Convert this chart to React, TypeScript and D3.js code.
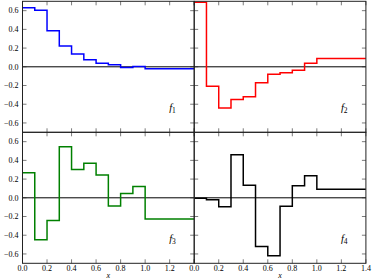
import React from "react";
import * as d3 from "d3";

const edges = [0, 0.1, 0.2, 0.3, 0.4, 0.5, 0.6, 0.7, 0.8, 0.9, 1.0, 1.4];
const f1 = [0.632, 0.604, 0.386, 0.221, 0.136, 0.075, 0.039, 0.021, -0.007, 0.004, -0.021];
const f2 = [0.689, -0.207, -0.439, -0.35, -0.321, -0.171, -0.079, -0.064, -0.036, 0.039, 0.089];
const f3 = [0.268, -0.447, -0.243, 0.546, 0.303, 0.37, 0.243, -0.088, 0.046, 0.12, -0.226];
const f4 = [-0.004, -0.021, -0.095, 0.46, 0.133, -0.52, -0.62, -0.091, 0.13, 0.235, 0.091];
const seriesNames = ["1", "2", "3", "4"];
const seriesColors = ["#0000ff", "#ff0000", "#008000", "#000000"];
const xTicks = [0, 0.2, 0.4, 0.6, 0.8, 1.0, 1.2, 1.4];
const yTicks = [-0.6, -0.4, -0.2, 0, 0.2, 0.4, 0.6];

const W = 374, H = 280;
const left0 = 22.5, panelW = 171.7, top0 = 1.3, panelH = 131;
const FONT = "'Liberation Serif', 'DejaVu Serif', serif";

const fmt = (v: number) => {
  const s = Math.abs(v).toFixed(1);
  return v < -1e-9 ? "\u2212" + s : s;
};

function Panel({ data, idx }: { data: number[]; idx: number }) {
  const col = idx % 2, row = Math.floor(idx / 2);
  const x0 = left0 + col * panelW, y0 = top0 + row * panelH;
  const x = d3.scaleLinear().domain([0, 1.4]).range([x0, x0 + panelW]);
  const y = d3.scaleLinear().domain([-0.7, 0.7]).range([y0 + panelH, y0]);
  const pts: [number, number][] = edges.map((e, i) => [e, data[Math.min(i, data.length - 1)]]);
  const line = d3.line<[number, number]>().x(d => x(d[0])).y(d => y(d[1])).curve(d3.curveStepAfter);
  const tl = 4;
  const clipId = `clip${idx}`;
  return (
    <g>
      <defs>
        <clipPath id={clipId}>
          <rect x={x0} y={y0} width={panelW} height={panelH} />
        </clipPath>
      </defs>
      <line x1={x0} x2={x0 + panelW} y1={y(0)} y2={y(0)} stroke="#000" strokeWidth={1} />
      <path d={line(pts) || ""} fill="none" stroke={seriesColors[idx]} strokeWidth={1.5} clipPath={`url(#${clipId})`} />
      {xTicks.map(t => (
        <g key={"x" + t}>
          <line x1={x(t)} x2={x(t)} y1={y0 + panelH} y2={y0 + panelH - tl} stroke="#222" strokeWidth={0.6} />
          <line x1={x(t)} x2={x(t)} y1={y0} y2={y0 + tl} stroke="#222" strokeWidth={0.6} />
          {row === 1 && !(col === 0 && t === 1.4) && (
            <text x={x(t)} y={y0 + panelH + 7.5} fontSize={8} fontFamily={FONT} textAnchor="middle" fill="#000">{fmt(t)}</text>
          )}
        </g>
      ))}
      {yTicks.map(t => (
        <g key={"y" + t}>
          <line x1={x0} x2={x0 + tl} y1={y(t)} y2={y(t)} stroke="#222" strokeWidth={0.6} />
          <line x1={x0 + panelW} x2={x0 + panelW - tl} y1={y(t)} y2={y(t)} stroke="#222" strokeWidth={0.6} />
          {col === 0 && (
            <text x={x0 - 4} y={y(t) + 2.8} fontSize={8} fontFamily={FONT} textAnchor="end" fill="#000">{fmt(t)}</text>
          )}
        </g>
      ))}
      <rect x={x0} y={y0} width={panelW} height={panelH} fill="none" stroke="#222" strokeWidth={1} />
      <text x={x0 + panelW - 25} y={y0 + panelH - 21} fontSize={10.5} fontFamily={FONT} fontStyle="italic" fill="#000">
        f<tspan fontSize={7.5} dy={2} fontStyle="normal">{seriesNames[idx]}</tspan>
      </text>
      {row === 1 && (
        <text x={x0 + panelW / 2} y={y0 + panelH + 14.5} fontSize={8} fontFamily={FONT} fontStyle="italic" textAnchor="middle" fill="#000">x</text>
      )}
    </g>
  );
}

export default function App() {
  const all = [f1, f2, f3, f4];
  return (
    <svg width={W} height={H} style={{ position: "absolute", left: 0, top: 0, background: "#fff" }}>
      {all.map((d, i) => <Panel key={i} data={d} idx={i} />)}
    </svg>
  );
}
